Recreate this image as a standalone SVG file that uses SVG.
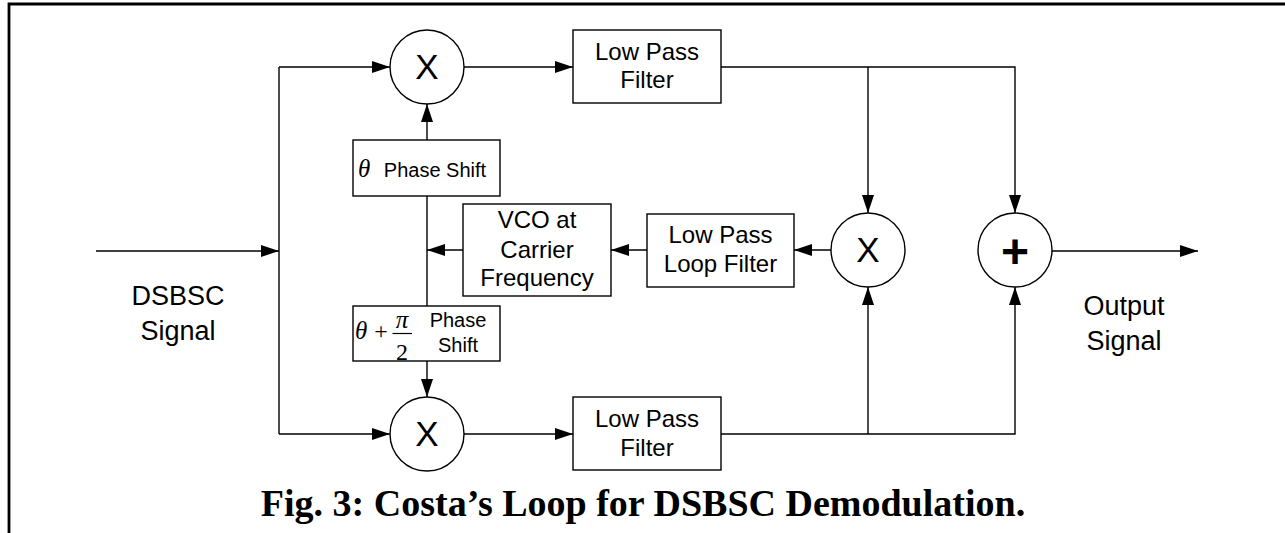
<svg xmlns="http://www.w3.org/2000/svg" width="1285" height="533" viewBox="0 0 1285 533">
<defs>
<marker id="ah" markerUnits="userSpaceOnUse" markerWidth="18" markerHeight="12" refX="18" refY="6" orient="auto">
<path d="M0,0 L18,6 L0,12 z" fill="#000"/>
</marker>
<style>
.ln{fill:none;stroke:#000;stroke-width:1.4}
.bx{fill:#fff;stroke:#000;stroke-width:1.4}
.t{font-family:"Liberation Sans",Arial,sans-serif;fill:#000;text-anchor:middle}
.m{font-family:"Liberation Serif","Times New Roman",serif;font-style:italic;fill:#000}
.bl{font-size:24px}
.cap{font-family:"Liberation Serif","Times New Roman",serif;font-weight:bold;font-size:38px;text-anchor:middle;fill:#000}
</style>
</defs>
<rect width="1285" height="533" fill="#fff"/>
<path d="M9,533 L9,4 L1285,4" fill="none" stroke="#000" stroke-width="2.8"/>

<g id="connectors">
<path class="ln" d="M96,251 L279,251" marker-end="url(#ah)"/>
<path class="ln" d="M279,67 L279,434"/>
<path class="ln" d="M279,67 L390,67" marker-end="url(#ah)"/>
<path class="ln" d="M279,434 L390,434" marker-end="url(#ah)"/>
<path class="ln" d="M464,67 L573,67" marker-end="url(#ah)"/>
<path class="ln" d="M464,434 L573,434" marker-end="url(#ah)"/>
<path class="ln" d="M721,67 L1015,67 L1015,213" marker-end="url(#ah)"/>
<path class="ln" d="M868,67 L868,213" marker-end="url(#ah)"/>
<path class="ln" d="M721,434 L1015,434 L1015,287" marker-end="url(#ah)"/>
<path class="ln" d="M868,434 L868,287" marker-end="url(#ah)"/>
<path class="ln" d="M831,250 L794,250" marker-end="url(#ah)"/>
<path class="ln" d="M647,250 L611,250" marker-end="url(#ah)"/>
<path class="ln" d="M463,250 L427,250" marker-end="url(#ah)"/>
<path class="ln" d="M427,196 L427,306"/>
<path class="ln" d="M427,140 L427,104" marker-end="url(#ah)"/>
<path class="ln" d="M427,361 L427,397" marker-end="url(#ah)"/>
<path class="ln" d="M1052,251 L1198,251" marker-end="url(#ah)"/>
</g>

<g id="mixer-top">
<circle class="bx" cx="427" cy="67" r="37"/>
<text class="t" x="427" y="79" font-size="35">X</text>
</g>
<g id="mixer-bottom">
<circle class="bx" cx="427" cy="434" r="37"/>
<text class="t" x="427" y="446" font-size="35">X</text>
</g>
<g id="mixer-loop">
<circle class="bx" cx="868" cy="250" r="37"/>
<text class="t" x="868" y="262" font-size="35">X</text>
</g>
<g id="adder">
<circle class="bx" cx="1015" cy="250" r="37"/>
<text class="t" x="1015" y="268" font-size="48" font-weight="bold">+</text>
</g>

<g id="lpf-top">
<rect class="bx" x="573" y="30" width="148" height="73"/>
<text class="t bl" x="647" y="60">Low Pass</text>
<text class="t bl" x="647" y="88">Filter</text>
</g>
<g id="lpf-bottom">
<rect class="bx" x="573" y="397" width="148" height="73"/>
<text class="t bl" x="647" y="427">Low Pass</text>
<text class="t bl" x="647" y="456">Filter</text>
</g>
<g id="loop-filter">
<rect class="bx" x="647" y="214" width="147" height="73"/>
<text class="t bl" x="720.5" y="243">Low Pass</text>
<text class="t bl" x="720.5" y="272">Loop Filter</text>
</g>
<g id="vco">
<rect class="bx" x="463" y="204" width="148" height="92"/>
<text class="t bl" x="537" y="228">VCO at</text>
<text class="t bl" x="537" y="258">Carrier</text>
<text class="t bl" x="537" y="286">Frequency</text>
</g>
<g id="phase-theta">
<rect class="bx" x="353" y="140" width="147" height="56"/>
<text class="m" x="358" y="177" font-size="25">θ</text>
<text class="t" x="435" y="177" font-size="20">Phase Shift</text>
</g>
<g id="phase-theta-pi2">
<rect class="bx" x="353" y="306" width="147" height="55"/>
<text class="m" x="355" y="339" font-size="25">θ</text>
<text x="381" y="339" font-family="Liberation Serif, serif" font-size="24" text-anchor="middle">+</text>
<text class="m" x="402" y="328" font-size="25" text-anchor="middle">π</text>
<line x1="392.5" y1="333.5" x2="412" y2="333.5" stroke="#000" stroke-width="1.2"/>
<text x="402" y="360" font-family="Liberation Serif, serif" font-size="24" text-anchor="middle">2</text>
<text class="t" x="458" y="327" font-size="20">Phase</text>
<text class="t" x="458" y="352" font-size="20">Shift</text>
</g>

<g id="input-label">
<text class="t" x="178" y="305" font-size="27">DSBSC</text>
<text class="t" x="178" y="340" font-size="27">Signal</text>
</g>
<g id="output-label">
<text class="t" x="1124" y="315" font-size="27">Output</text>
<text class="t" x="1124" y="350" font-size="27">Signal</text>
</g>
<text class="cap" x="643" y="516">Fig. 3: Costa’s Loop for DSBSC Demodulation.</text>
</svg>
